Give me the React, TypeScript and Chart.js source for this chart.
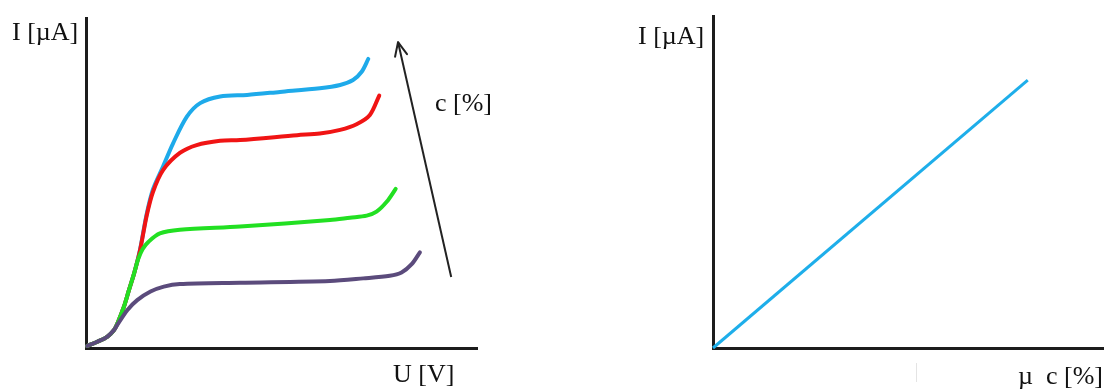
import React, { useEffect, useRef } from "react";
import { Chart, registerables } from "chart.js";

Chart.register(...registerables);

// Left chart: I [µA] vs U [V], one curve per concentration c [%]
const purpleCurve: [number, number][] = [
  [0.03, 0.06], [0.29, 0.19], [0.54, 0.34], [0.72, 0.55], [0.8, 0.7], [1.06, 1.15],
  [1.31, 1.45], [1.65, 1.71], [1.99, 1.86], [2.4, 1.94], [3.94, 1.98], [6.24, 2.03],
  [7.09, 2.11], [7.77, 2.19], [8.07, 2.29], [8.33, 2.54], [8.54, 2.9],
];
const greenCurve: [number, number][] = [
  [0.03, 0.06], [0.29, 0.19], [0.54, 0.34], [0.72, 0.55], [0.84, 0.85], [0.97, 1.25],
  [1.1, 1.76], [1.23, 2.26], [1.33, 2.68], [1.45, 3.0], [1.6, 3.22], [1.89, 3.47],
  [2.4, 3.58], [3.94, 3.68], [6.24, 3.88], [6.75, 3.95], [7.18, 4.01], [7.43, 4.13],
  [7.69, 4.43], [7.92, 4.82],
];
const redCurve: [number, number][] = [
  [0.03, 0.06], [0.29, 0.19], [0.54, 0.34], [0.72, 0.55], [0.84, 0.85], [0.97, 1.25],
  [1.1, 1.76], [1.23, 2.26], [1.38, 2.95], [1.55, 4.0], [1.71, 4.72], [1.97, 5.39],
  [2.4, 5.91], [2.83, 6.15], [3.43, 6.28], [3.94, 6.3], [5.4, 6.45], [5.98, 6.5],
  [6.5, 6.61], [6.92, 6.78], [7.26, 7.06], [7.5, 7.65],
];
const blueCurve: [number, number][] = [
  [0.03, 0.06], [0.29, 0.19], [0.54, 0.34], [0.72, 0.55], [0.84, 0.85], [0.97, 1.25],
  [1.1, 1.76], [1.23, 2.26], [1.38, 2.97], [1.55, 4.05], [1.71, 4.8], [1.97, 5.5],
  [2.23, 6.21], [2.58, 7.01], [2.92, 7.42], [3.43, 7.62], [4.12, 7.67], [4.96, 7.76],
  [5.98, 7.87], [6.5, 7.97], [6.83, 8.12], [7.05, 8.37], [7.22, 8.76],
];
// Arrow showing increasing c [%]
const arrowU = [9.34, 7.98];
const arrowI = [2.15, 9.27];

// Right chart: I [µA] vs c [%]
const linearC = [0, 8.05];
const linearI = [0, 8.07];

const axisRange = { xMin: 0, xMax: 10, yMin: 0, yMax: 10 };

const toPts = (arr: [number, number][]) => arr.map(([x, y]) => ({ x, y }));
const zipPts = (xs: number[], ys: number[]) => xs.map((x, i) => ({ x, y: ys[i] }));

const arrowHeadPlugin = {
  id: "arrowHead",
  afterDatasetsDraw(chart: any) {
    chart.data.datasets.forEach((ds: any, i: number) => {
      if (!ds.isArrow) return;
      const pts = chart.getDatasetMeta(i).data;
      if (pts.length < 2) return;
      const a = pts[pts.length - 2];
      const b = pts[pts.length - 1];
      const ang = Math.atan2(b.y - a.y, b.x - a.x);
      const len = 15;
      const spread = 0.42;
      const ctx = chart.ctx;
      ctx.save();
      ctx.strokeStyle = ds.borderColor;
      ctx.lineWidth = ds.borderWidth;
      ctx.lineCap = "round";
      ctx.lineJoin = "round";
      ctx.beginPath();
      ctx.moveTo(b.x - len * Math.cos(ang - spread), b.y - len * Math.sin(ang - spread));
      ctx.lineTo(b.x, b.y);
      ctx.lineTo(b.x - len * Math.cos(ang + spread), b.y - len * Math.sin(ang + spread));
      ctx.stroke();
      ctx.restore();
    });
  },
};

function makeScales() {
  const common = {
    type: "linear" as const,
    display: true,
    grid: { display: false, drawTicks: false },
    ticks: { display: false },
    border: { display: true, color: "#1c1c1c", width: 3 },
    title: { display: false },
  };
  return {
    x: { ...common, min: axisRange.xMin, max: axisRange.xMax },
    y: { ...common, min: axisRange.yMin, max: axisRange.yMax },
  };
}

function curve(data: [number, number][], color: string) {
  return {
    data: toPts(data),
    borderColor: color,
    borderWidth: 4,
    pointRadius: 0,
    tension: 0.3,
    clip: false as any,
    borderCapStyle: "round" as const,
    borderJoinStyle: "round" as const,
  };
}

export default function App() {
  const leftRef = useRef<HTMLCanvasElement>(null);
  const rightRef = useRef<HTMLCanvasElement>(null);

  useEffect(() => {
    const left = new Chart(leftRef.current!, {
      type: "line",
      data: {
        datasets: [
          {
            data: zipPts(arrowU, arrowI),
            borderColor: "#222222",
            borderWidth: 2,
            pointRadius: 0,
            clip: false as any,
            isArrow: true,
          } as any,
          curve(purpleCurve, "#5b4b7c"),
          curve(greenCurve, "#22e022"),
          curve(redCurve, "#f01414"),
          curve(blueCurve, "#1eaaea"),
        ],
      },
      options: {
        responsive: false,
        animation: false,
        devicePixelRatio: 1,
        layout: { padding: { left: 86, right: 83, top: 18, bottom: 43 } },
        plugins: { legend: { display: false }, tooltip: { enabled: false } },
        scales: makeScales() as any,
      },
      plugins: [arrowHeadPlugin],
    });

    const right = new Chart(rightRef.current!, {
      type: "line",
      data: {
        datasets: [
          {
            data: zipPts(linearC, linearI),
            borderColor: "#1eaeea",
            borderWidth: 3,
            pointRadius: 0,
            clip: false as any,
          },
        ],
      },
      options: {
        responsive: false,
        animation: false,
        devicePixelRatio: 1,
        layout: { padding: { left: 153, right: 0, top: 16, bottom: 43 } },
        plugins: { legend: { display: false }, tooltip: { enabled: false } },
        scales: makeScales() as any,
      },
    });

    return () => {
      left.destroy();
      right.destroy();
    };
  }, []);

  const label = (text: string, left: number, top: number): React.ReactNode => (
    <div
      style={{
        position: "absolute",
        left,
        top,
        fontSize: 26,
        lineHeight: "26px",
        whiteSpace: "pre",
        color: "#111111",
        fontFamily: '"Liberation Serif", "Times New Roman", serif',
      }}
    >
      {text}
    </div>
  );

  return (
    <div
      style={{
        position: "fixed",
        left: 0,
        top: 0,
        width: 1104,
        height: 391,
        background: "#ffffff",
        overflow: "hidden",
      }}
    >
      <canvas ref={leftRef} width={560} height={391} style={{ position: "absolute", left: 0, top: 0 }} />
      <canvas ref={rightRef} width={544} height={391} style={{ position: "absolute", left: 560, top: 0 }} />
      {label("I [µA]", 12, 19)}
      {label("U [V]", 393, 361)}
      {label("c [%]", 435, 90)}
      {label("I [µA]", 638, 23)}
      {label("µ  c [%]", 1018, 363)}
      <div
        style={{
          position: "absolute",
          left: 916,
          top: 363,
          width: 1,
          height: 19,
          background: "#e4e4e4",
        }}
      />
    </div>
  );
}
